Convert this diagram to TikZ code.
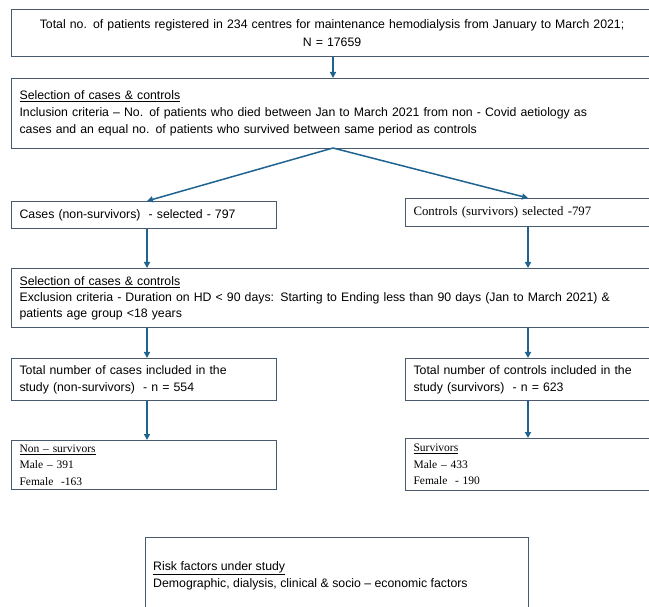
\documentclass[tikz,border=0pt]{standalone}
\usepackage{fontspec}
\setmainfont{Liberation Sans}
\newfontfamily\timesf[Ligatures=TeX]{Liberation Serif}
\usetikzlibrary{arrows.meta}
\definecolor{boxline}{HTML}{4A5A6E}
\definecolor{arrowc}{HTML}{1F6391}
\begin{document}
\begin{tikzpicture}[x=1pt,y=-1pt,
  box/.style={draw=boxline, line width=1.1pt, anchor=north west, inner xsep=8pt, inner ysep=0pt, align=left, font=\fontsize{12.3}{17}\selectfont},
  conn/.style={draw=arrowc, line width=1.5pt, -{Triangle[width=6pt,length=6pt]}}]
\useasboundingbox (0,0) rectangle (649,607);
\clip (0,0) rectangle (649,607);
% boxes
\node[box, minimum width=641pt, minimum height=47pt, align=center, text width=625pt, font=\fontsize{12.3}{18}\selectfont] (b1) at (11,9)
  {Total no. of patients registered in 234 centres for maintenance hemodialysis from January to March 2021;\\ N = 17659};
\node[box, minimum width=641pt, minimum height=70pt, text width=625pt] (b2) at (11,78)
  {\underline{Selection of cases \& controls}\\
   Inclusion criteria – No. of patients who died between Jan to March 2021 from non - Covid aetiology as\\
   cases and an equal no. of patients who survived between same period as controls};
\node[box, minimum width=265pt, minimum height=27pt, text width=249pt] (b3l) at (11,201)
  {Cases (non-survivors) ~- selected - 797};
\node[box, minimum width=247pt, minimum height=28pt, text width=231pt, inner xsep=7pt, font=\timesf\fontsize{12.8}{15}\selectfont] (b3r) at (405,198)
  {Controls (survivors) selected -797};
\node[box, minimum width=641pt, minimum height=59pt, text width=625pt, font=\fontsize{12.3}{16}\selectfont] (b4) at (11,268)
  {\underline{Selection of cases \& controls}\\
   Exclusion criteria - Duration on HD < 90 days: Starting to Ending less than 90 days (Jan to March 2021) \&\\
   patients age group <18 years};
\node[box, minimum width=265pt, minimum height=42pt, text width=249pt] (b5l) at (11,358)
  {Total number of cases included in the\\ study (non-survivors) ~- n = 554};
\node[box, minimum width=247pt, minimum height=42pt, text width=231pt] (b5r) at (405,358)
  {Total number of controls included in the\\ study (survivors) ~- n = 623};
\node[box, minimum width=265pt, minimum height=49pt, text width=249pt, inner xsep=7pt, font=\timesf\fontsize{11.5}{16.5}\selectfont] (b6l) at (11,440)
  {\underline{Non – survivors}\\ Male – 391\\ Female ~-163};
\node[box, minimum width=247pt, minimum height=52pt, text width=231pt, inner xsep=7pt, font=\timesf\fontsize{11.5}{16.5}\selectfont] (b6r) at (405,438)
  {\underline{Survivors}\\ Male – 433\\ Female ~- 190};
\node[box, minimum width=383pt, minimum height=90pt, text width=367pt] (b7) at (145,537) {};
\node[anchor=north west, inner sep=0pt, align=left, font=\fontsize{12.3}{17}\selectfont] (b7t) at (153,561)
  {\underline{Risk factors under study}\\ Demographic, dialysis, clinical \& socio – economic factors};
% connectors
\coordinate (c1) at (333,56);
\draw[conn] (b1.south -| c1) -- (b2.north -| c1);
\coordinate (sp) at (333,148);
\coordinate (lx) at (147,0);
\coordinate (rx) at (528,0);
\draw[conn] (sp) -- (b3l.north -| lx);
\draw[conn] (sp) -- (b3r.north -| rx);
\draw[conn] (b3l.south -| lx) -- (b4.north -| lx);
\draw[conn] (b3r.south -| rx) -- (b4.north -| rx);
\draw[conn] (b4.south -| lx) -- (b5l.north -| lx);
\draw[conn] (b4.south -| rx) -- (b5r.north -| rx);
\draw[conn] (b5l.south -| lx) -- (b6l.north -| lx);
\draw[conn] (b5r.south -| rx) -- (b6r.north -| rx);
\end{tikzpicture}
\end{document}
